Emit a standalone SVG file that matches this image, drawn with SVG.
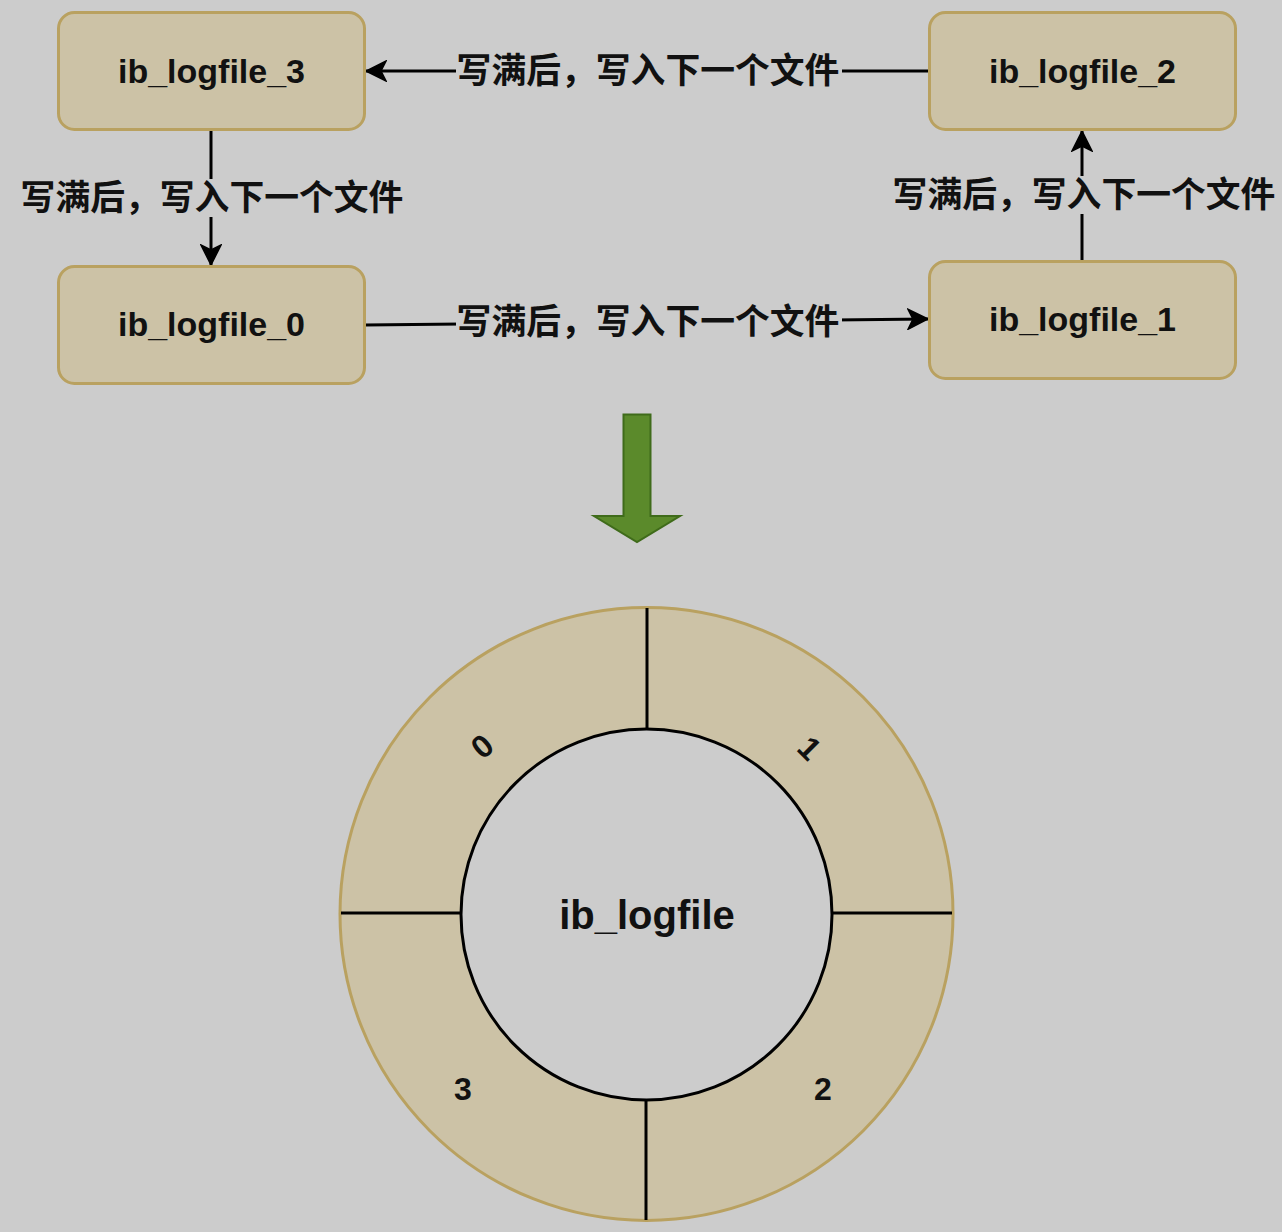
<svg xmlns="http://www.w3.org/2000/svg" width="1282" height="1232" viewBox="0 0 1282 1232">
  <style>
    .node rect { fill: #CCC2A6; stroke: #B9A160; stroke-width: 3; }
    .ntext { font-family: "Liberation Sans", Arial, sans-serif; font-weight: bold; font-size: 34px; fill: #111; text-anchor: middle; }
    .lbl { font-family: "Liberation Sans", "Noto Sans CJK SC", sans-serif; font-weight: bold; font-size: 34.8px; fill: #111; text-anchor: middle; }
    .edge { stroke: #000; stroke-width: 3; fill: none; }
    .lblbg { fill: #CCCCCC; }
    .digit { font-family: "Liberation Sans", Arial, sans-serif; font-weight: bold; font-size: 32px; fill: #111; text-anchor: middle; }
  </style>
  <defs>
    <marker id="arr" viewBox="0 0 22 22" refX="21" refY="11" markerWidth="22" markerHeight="22" markerUnits="userSpaceOnUse" orient="auto">
      <path d="M21,11 L1,1 L6,11 L1,21 Z" fill="#000" stroke="#000" stroke-width="1.5" stroke-linejoin="miter"/>
    </marker>
  </defs>
  <rect x="0" y="0" width="1282" height="1232" fill="#CCCCCC"/>

  <g id="connectors">
    <line class="edge" x1="929" y1="71" x2="366" y2="71" marker-end="url(#arr)"/>
    <rect class="lblbg" x="456" y="52" width="386" height="38"/>
    <text class="lbl" x="648" y="83">写满后，写入下一个文件</text>

    <line class="edge" x1="211" y1="130" x2="211" y2="265" marker-end="url(#arr)"/>
    <rect class="lblbg" x="19" y="179" width="386" height="38"/>
    <text class="lbl" x="212" y="210">写满后，写入下一个文件</text>

    <line class="edge" x1="1082" y1="261" x2="1082" y2="131" marker-end="url(#arr)"/>
    <rect class="lblbg" x="891" y="176" width="386" height="38"/>
    <text class="lbl" x="1084" y="207">写满后，写入下一个文件</text>

    <line class="edge" x1="365" y1="325" x2="928" y2="319" marker-end="url(#arr)"/>
    <rect class="lblbg" x="456" y="303" width="386" height="38"/>
    <text class="lbl" x="648" y="334">写满后，写入下一个文件</text>
  </g>

  <g id="node-ib_logfile_3" class="node">
    <rect x="58.5" y="12.5" width="306" height="117" rx="16" ry="16"/>
    <text class="ntext" x="211.5" y="83">ib_logfile_3</text>
  </g>
  <g id="node-ib_logfile_2" class="node">
    <rect x="929.5" y="12.5" width="306" height="117" rx="16" ry="16"/>
    <text class="ntext" x="1082.5" y="83">ib_logfile_2</text>
  </g>
  <g id="node-ib_logfile_0" class="node">
    <rect x="58.5" y="266.5" width="306" height="117" rx="16" ry="16"/>
    <text class="ntext" x="211.5" y="336">ib_logfile_0</text>
  </g>
  <g id="node-ib_logfile_1" class="node">
    <rect x="929.5" y="261.5" width="306" height="117" rx="16" ry="16"/>
    <text class="ntext" x="1082.5" y="331">ib_logfile_1</text>
  </g>

  <g id="big-arrow">
    <path d="M623.5,414.5 L650.5,414.5 L650.5,516 L680,516 L637,542 L594,516 L623.5,516 Z" fill="#5B8A2B" stroke="#3F6B1A" stroke-width="2" stroke-linejoin="miter"/>
  </g>

  <g id="ring">
    <circle cx="646.5" cy="914" r="306.5" fill="#CCC2A6" stroke="#B9A160" stroke-width="3"/>
    <line x1="647" y1="608" x2="647" y2="729" stroke="#000" stroke-width="3"/>
    <line x1="646" y1="1100" x2="646" y2="1220" stroke="#000" stroke-width="3"/>
    <line x1="341" y1="913" x2="461" y2="913" stroke="#000" stroke-width="3"/>
    <line x1="832" y1="913" x2="952" y2="913" stroke="#000" stroke-width="3"/>
    <circle cx="646.5" cy="914.5" r="185.5" fill="#CCCCCC" stroke="#000" stroke-width="3"/>
    <text class="ntext" x="647" y="929" style="font-size:40px">ib_logfile</text>
    <text class="digit" transform="translate(482,746) rotate(-40)" x="0" y="11.5">0</text>
    <text class="digit" transform="translate(810,748) rotate(45)" x="0" y="11.5">1</text>
    <text class="digit" x="823" y="1100">2</text>
    <text class="digit" x="463" y="1100">3</text>
  </g>
</svg>
